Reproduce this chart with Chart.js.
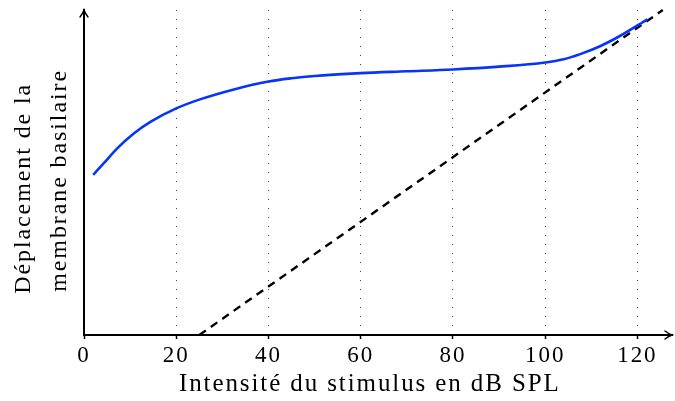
<!DOCTYPE html>
<html>
<head>
<meta charset="utf-8">
<script src="https://cdn.jsdelivr.net/npm/chart.js@4"></script>
<style>
  html, body { margin: 0; padding: 0; background: #fff; }
  #wrap { width: 675px; height: 401px; }
</style>
</head>
<body>
<div id="wrap"><canvas id="chart"></canvas></div>
<script>
// Data
const curveX = [2, 4.3, 7.2, 10.8, 14.4, 20, 25.3, 32.5, 40, 45, 50, 60, 70, 80, 90, 100, 104, 107.6, 111.9, 116.2, 122.2];
const curveY = [34.5, 37.0, 40.2, 43.4, 45.9, 48.8, 50.8, 52.9, 54.6, 55.3, 55.8, 56.4, 56.8, 57.2, 57.8, 58.7, 59.4, 60.5, 62.2, 64.4, 68.0];
const lineX = [25, 125.5];
const lineY = [0, 70];
const xTicks = [0, 20, 40, 60, 80, 100, 120];
// trailing spaces nudge the centred titles to where the reference has them
const xTitle = 'Intensité du stimulus en dB SPL  ';
const yTitle = ['Déplacement de la    ', 'membrane basilaire  '];

const FONT = "'Liberation Serif', serif";

// Wider letter spacing to get closer to the Computer Modern look
const textSpacing = {
    id: 'textSpacing',
    beforeDraw(chart) {
        chart.ctx.letterSpacing = '1.9px';
    }
};

// Arrowheads on both axes
const axisArrows = {
    id: 'axisArrows',
    afterDraw(chart) {
        const { ctx, chartArea } = chart;
        const { left, right, top, bottom } = chartArea;
        ctx.save();
        ctx.strokeStyle = '#000';
        ctx.lineWidth = 1.4;
        ctx.lineCap = 'round';
        // y arrow (up)
        ctx.beginPath();
        ctx.moveTo(left - 4, top + 7);
        ctx.quadraticCurveTo(left - 1, top + 3, left, top);
        ctx.quadraticCurveTo(left + 1, top + 3, left + 4, top + 7);
        ctx.stroke();
        // x arrow (right)
        ctx.beginPath();
        ctx.moveTo(right - 7, bottom - 4);
        ctx.quadraticCurveTo(right - 3, bottom - 1, right, bottom);
        ctx.quadraticCurveTo(right - 3, bottom + 1, right - 7, bottom + 4);
        ctx.stroke();
        ctx.restore();
    }
};

const ctx = document.getElementById('chart').getContext('2d');
new Chart(ctx, {
    type: 'scatter',
    data: {
        datasets: [
            {
                data: curveX.map((x, i) => ({ x, y: curveY[i] })),
                showLine: true,
                borderColor: '#0634f8',
                borderWidth: 2.6,
                pointRadius: 0,
                cubicInterpolationMode: 'monotone',
                clip: false
            },
            {
                data: lineX.map((x, i) => ({ x, y: lineY[i] })),
                showLine: true,
                borderColor: '#000',
                borderWidth: 2.4,
                borderDash: [8, 6],
                pointRadius: 0,
                clip: false
            }
        ]
    },
    plugins: [textSpacing, axisArrows],
    options: {
        responsive: true,
        maintainAspectRatio: false,
        animation: false,
        layout: { padding: { top: 10, right: 3, left: 0, bottom: 0 } },
        plugins: {
            legend: { display: false },
            tooltip: { enabled: false }
        },
        scales: {
            x: {
                type: 'linear',
                min: 0,
                max: 127.5,
                afterFit: (scale) => { scale.height = 66; },
                afterBuildTicks: (scale) => { scale.ticks = xTicks.map(v => ({ value: v })); },
                ticks: {
                    color: '#000',
                    font: { family: FONT, size: 23 },
                    padding: 3,
                    maxRotation: 0
                },
                grid: {
                    color: (c) => c.tick && c.tick.value === 0 ? 'rgba(0,0,0,0)' : '#444',
                    lineWidth: 1,
                    tickLength: 4,
                    tickColor: '#000',
                    tickWidth: 1.5
                },
                border: { display: true, color: '#000', width: 2, dash: [1, 8] },
                title: {
                    display: true,
                    text: xTitle,
                    color: '#000',
                    font: { family: FONT, size: 25 },
                    padding: { top: 0, bottom: 2 }
                }
            },
            y: {
                type: 'linear',
                min: 0,
                max: 70,
                afterFit: (scale) => { scale.width = 84; },
                ticks: { display: false },
                grid: { display: false },
                border: { display: true, color: '#000', width: 2 },
                title: {
                    display: true,
                    text: yTitle,
                    color: '#000',
                    font: { family: FONT, size: 24, lineHeight: 1.5 },
                    padding: { top: 6, bottom: 0 }
                }
            }
        }
    }
});
</script>
</body>
</html>
